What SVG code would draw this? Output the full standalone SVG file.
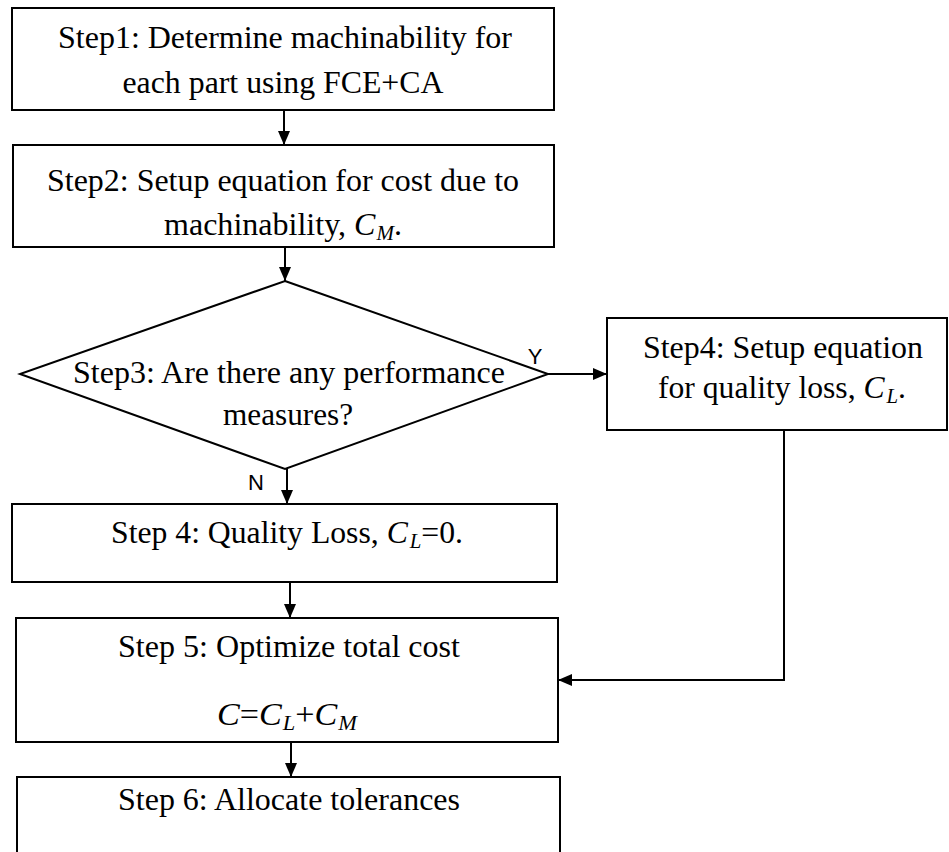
<svg xmlns="http://www.w3.org/2000/svg" width="949" height="852" viewBox="0 0 949 852">
  <style>
    .box { fill: #ffffff; stroke: #000000; stroke-width: 2; }
    .edge { fill: none; stroke: #000000; stroke-width: 2; }
    .t { font-family: 'Liberation Serif', 'DejaVu Serif', serif; font-size: 32px; fill: #000000; text-anchor: middle; }
    .i { font-style: italic; }
    .sub { font-style: italic; font-size: 21px; }
    .lbl { font-family: 'Liberation Sans', 'DejaVu Sans', sans-serif; font-size: 22px; fill: #000000; text-anchor: middle; }
  </style>
  <defs>
    <marker id="arrow" markerUnits="userSpaceOnUse" markerWidth="14" markerHeight="12" refX="14" refY="6" orient="auto">
      <path d="M0,0 L14,6 L0,12 Z" fill="#000000"/>
    </marker>
  </defs>

  <rect width="949" height="852" fill="#ffffff"/>

  <!-- connectors -->
  <g id="connectors">
    <path class="edge" d="M284,110 L284,145" marker-end="url(#arrow)"/>
    <path class="edge" d="M285,247 L285,281" marker-end="url(#arrow)"/>
    <path class="edge" d="M548,374 L607,374" marker-end="url(#arrow)"/>
    <path class="edge" d="M287,469 L287,504" marker-end="url(#arrow)"/>
    <path class="edge" d="M290,582 L290,618" marker-end="url(#arrow)"/>
    <path class="edge" d="M784,430 L784,680 L558,680" marker-end="url(#arrow)"/>
    <path class="edge" d="M291,742 L291,777" marker-end="url(#arrow)"/>
    <text class="lbl" x="535" y="364">Y</text>
    <text class="lbl" x="256" y="490">N</text>
  </g>

  <!-- step 1 -->
  <g id="step1">
    <rect class="box" x="12" y="8" width="542" height="102"/>
    <text class="t" x="285" y="48" textLength="454" lengthAdjust="spacingAndGlyphs">Step1: Determine machinability for</text>
    <text class="t" x="283" y="93" textLength="321" lengthAdjust="spacingAndGlyphs">each part using FCE+CA</text>
  </g>

  <!-- step 2 -->
  <g id="step2">
    <rect class="box" x="13" y="145" width="541" height="102"/>
    <text class="t" x="283" y="191" textLength="472" lengthAdjust="spacingAndGlyphs">Step2: Setup equation for cost due to</text>
    <text class="t" x="283" y="235" textLength="238" lengthAdjust="spacingAndGlyphs">machinability, <tspan class="i">C</tspan><tspan class="sub" dx="1" dy="5">M</tspan><tspan dy="-5">.</tspan></text>
  </g>

  <!-- step 3 decision -->
  <g id="step3">
    <polygon class="box" points="285,281 548,374 285,469 20,374"/>
    <text class="t" x="289" y="383" textLength="432" lengthAdjust="spacingAndGlyphs">Step3: Are there any performance</text>
    <text class="t" x="288" y="425" textLength="130" lengthAdjust="spacingAndGlyphs">measures?</text>
  </g>

  <!-- step 4, yes branch -->
  <g id="step4-yes">
    <rect class="box" x="607" y="318" width="340" height="112"/>
    <text class="t" x="783" y="358" textLength="280" lengthAdjust="spacingAndGlyphs">Step4: Setup equation</text>
    <text class="t" x="782" y="398" textLength="248" lengthAdjust="spacingAndGlyphs">for quality loss, <tspan class="i">C</tspan><tspan class="sub" dx="2" dy="5">L</tspan><tspan dy="-5">.</tspan></text>
  </g>

  <!-- step 4, no branch -->
  <g id="step4-no">
    <rect class="box" x="12" y="504" width="545" height="78"/>
    <text class="t" x="287" y="543" textLength="352" lengthAdjust="spacingAndGlyphs">Step 4: Quality Loss, <tspan class="i">C</tspan><tspan class="sub" dx="2" dy="5">L</tspan><tspan dy="-5">=0.</tspan></text>
  </g>

  <!-- step 5 -->
  <g id="step5">
    <rect class="box" x="16" y="618" width="542" height="124"/>
    <text class="t" x="289" y="657" textLength="342" lengthAdjust="spacingAndGlyphs">Step 5: Optimize total cost</text>
    <text class="t" x="287" y="725" textLength="140" lengthAdjust="spacingAndGlyphs"><tspan class="i">C</tspan>=<tspan class="i">C</tspan><tspan class="sub" dx="1" dy="5">L</tspan><tspan dy="-5">+</tspan><tspan class="i">C</tspan><tspan class="sub" dx="1" dy="5">M</tspan></text>
  </g>

  <!-- step 6 -->
  <g id="step6">
    <rect class="box" x="17" y="777" width="543" height="90"/>
    <text class="t" x="289" y="810" textLength="342" lengthAdjust="spacingAndGlyphs">Step 6: Allocate tolerances</text>
  </g>
</svg>
